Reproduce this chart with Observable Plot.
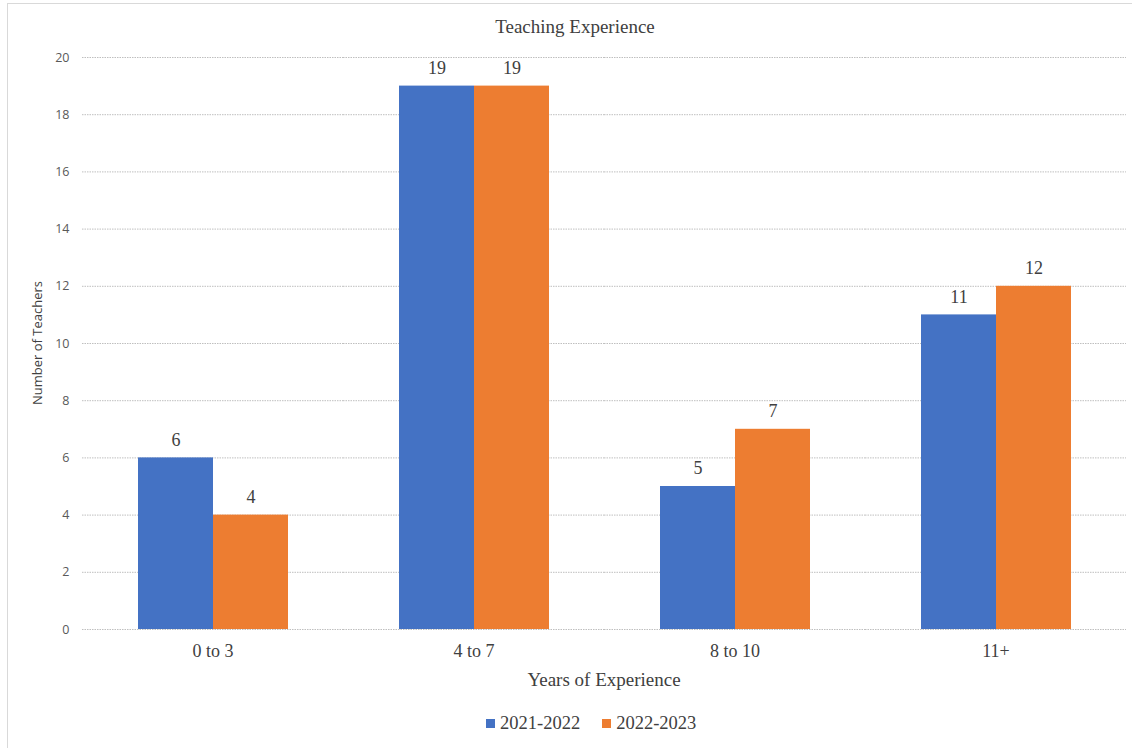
<!DOCTYPE html>
<html>
<head>
<meta charset="utf-8">
<script src="https://cdn.jsdelivr.net/npm/d3@7"></script>
<script src="https://cdn.jsdelivr.net/npm/@observablehq/plot@0.6"></script>
<style>
  html, body { margin: 0; padding: 0; background: #fff; }
  #frame {
    position: absolute; left: 7px; top: 3px; width: 1140px; height: 760px;
    border-left: 1px solid #d9d9d9; border-top: 1px solid #d9d9d9;
  }
  #chart { position: absolute; left: 0; top: 0; width: 1132px; height: 748px; }
  #title {
    position: absolute; left: 0; top: 16px; width: 1150px; text-align: center;
    font-family: "Liberation Serif", serif; font-size: 19px; line-height: 22px; color: #404040;
  }
  #plot { position: absolute; left: 0; top: 45px; }
  #legend {
    position: absolute; left: 486px; top: 712px; display: flex; align-items: center;
    font-family: "Liberation Serif", serif; font-size: 18.5px; line-height: 22px; color: #404040;
  }
  #legend span.item { display: flex; align-items: center; margin-right: 22px; white-space: nowrap; }
  #legend span.sw { display: inline-block; width: 9px; height: 9px; margin-right: 5px; }
</style>
</head>
<body>
<div id="frame"></div>
<div id="chart">
  <div id="title">Teaching Experience</div>
  <div id="plot"></div>
  <div id="legend"></div>
</div>
<script>
const categories = ["0 to 3", "4 to 7", "8 to 10", "11+"];
const seasons = ["2021-2022", "2022-2023"];
const teachers2021 = [6, 19, 5, 11];
const teachers2022 = [4, 19, 7, 12];
const colors = ["#4472C4", "#ED7D31"];
const yTicks = [0, 2, 4, 6, 8, 10, 12, 14, 16, 18, 20];

const rows = categories.flatMap((c, i) => [
  {category: c, season: seasons[0], count: teachers2021[i]},
  {category: c, season: seasons[1], count: teachers2022[i]}
]);

const SERIF = "'Liberation Serif', serif";
const SANS = "'Open Sans', sans-serif";
const marginLeft = 82, marginRight = 6, marginTop = 12, marginBottom = 65;
const width = 1132, height = 649;

const chart = Plot.plot({
  width, height, marginLeft, marginRight, marginTop, marginBottom,
  style: {color: "#595959", background: "transparent"},
  fx: {domain: categories, padding: 0, label: null},
  x: {domain: seasons, paddingInner: 0, paddingOuter: 0.74, axis: null},
  y: {domain: [0, 20], ticks: yTicks, label: null},
  color: {domain: seasons, range: colors},
  marks: [
    Plot.gridY(yTicks, {stroke: "#bfbfbf", strokeOpacity: 1, strokeDasharray: "1.5,1", strokeWidth: 1}),
    Plot.axisY(yTicks, {tickSize: 0, tickPadding: 13, fontSize: 12.5, fill: "#595959", label: null}),
    Plot.axisFx({anchor: "bottom", tickSize: 0, tickPadding: 15, fontSize: 18, fill: "#404040", label: null}),
    Plot.barY(rows, {fx: "category", x: "season", y: "count", fill: "season"}),
    Plot.text(rows, {
      fx: "category", x: "season", y: "count", text: d => String(d.count),
      dy: -18, fontSize: 18, fill: "#404040"
    })
  ]
});

const svg = d3.select(chart);

// typefaces: serif for categories and value labels, sans for the count ticks
svg.selectAll('g[aria-label="fx-axis tick label"] text, g[aria-label="text"] text')
  .style("font-family", SERIF);
svg.selectAll('g[aria-label="y-axis tick label"] text')
  .style("font-family", SANS);

// axis titles, drawn once for the whole frame
svg.append("text")
  .attr("x", marginLeft + (width - marginLeft - marginRight) / 2)
  .attr("y", 641)
  .attr("text-anchor", "middle")
  .attr("font-size", 19)
  .attr("fill", "#404040")
  .style("font-family", SERIF)
  .text("Years of Experience");

svg.append("text")
  .attr("transform", `translate(39,${marginTop + (height - marginTop - marginBottom) / 2}) rotate(-90)`)
  .attr("text-anchor", "middle")
  .attr("dominant-baseline", "middle")
  .attr("font-size", 13)
  .attr("fill", "#404040")
  .style("font-family", SANS)
  .text("Number of Teachers");

document.getElementById("plot").appendChild(chart);

const legend = document.getElementById("legend");
seasons.forEach((s, i) => {
  const item = document.createElement("span");
  item.className = "item";
  const sw = document.createElement("span");
  sw.className = "sw";
  sw.style.background = colors[i];
  item.appendChild(sw);
  item.appendChild(document.createTextNode(s));
  legend.appendChild(item);
});
</script>
</body>
</html>
